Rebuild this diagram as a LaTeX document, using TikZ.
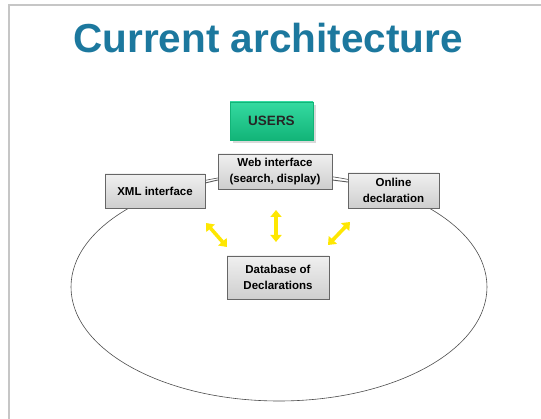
\documentclass[tikz,border=0pt]{standalone}
\usepackage{fontspec}
\setmainfont{Liberation Sans}
\usetikzlibrary{shapes,arrows,arrows.meta,shadows}
\definecolor{titleblue}{RGB}{28,120,158}
\definecolor{usersgreen}{RGB}{30,214,150}
\definecolor{usersdark}{RGB}{18,180,120}
\begin{document}
\begin{tikzpicture}[x=1pt,y=-1pt,
    box/.style={draw=gray!80!black, rectangle, top color=gray!12, bottom color=gray!38,
        font=\bfseries\fontsize{11.5}{15.5}\selectfont, align=center, inner sep=0pt,
        drop shadow={shadow xshift=1pt, shadow yshift=-1pt, opacity=0.4}},
    link/.style={draw=gray!70!black, line width=0.9pt},
    yarrow/.style={draw=yellow!90!orange, line width=3.6pt, {Triangle[length=7pt,width=11pt]}-{Triangle[length=7pt,width=11pt]}}]
        \useasboundingbox (0,0) rectangle (541,419);
        \draw[gray!45, line width=1.8pt] (9,419) -- (9,5) -- (541,5);
        % circle round
        \draw[gray!60!black, line width=0.6pt] (279,287) ellipse (208 and 114);
        % title
        \node[text=titleblue, font=\bfseries\fontsize{40.5}{42}\selectfont, inner sep=0pt] (title) at (268,38) {Current architecture};
        % boxes
        \node[draw=usersdark, top color=usersgreen!90!white, bottom color=usersdark, minimum width=83pt, minimum height=38pt,
            font=\bfseries\fontsize{13.5}{15}\selectfont, text=black!85, drop shadow={opacity=0.3}] (users) at (271.5,121) {USERS};
        \node[box, minimum width=114pt, minimum height=35pt] (web) at (275,171.5) {Web interface\\(search, display)};
        \node[box, minimum width=100pt, minimum height=34pt] (xml) at (155,191) {XML interface};
        \node[box, minimum width=91pt, minimum height=35pt] (online) at (393.5,190.5) {Online\\declaration};
        \node[box, minimum width=102pt, minimum height=43pt] (db) at (278,277.5) {Database of\\Declarations};
        \draw[link] ([yshift=8pt]xml.east) -- ([yshift=-8.5pt]web.west);
        \draw[link] ([yshift=-8.5pt]web.east) -- ([yshift=8.5pt]online.west);
        % arrows
        \coordinate (xmlend) at (206,223);
        \coordinate (webend) at (276,210);
        \coordinate (onlineend) at (350,222);
        \coordinate (dbleft) at (227,247);
        \coordinate (dbtop) at (276,242);
        \coordinate (dbright) at (328,245);
        \draw[yarrow] (xmlend) -- (dbleft);
        \draw[yarrow] (webend) -- (dbtop);
        \draw[yarrow] (onlineend) -- (dbright);
\end{tikzpicture}
\end{document}
